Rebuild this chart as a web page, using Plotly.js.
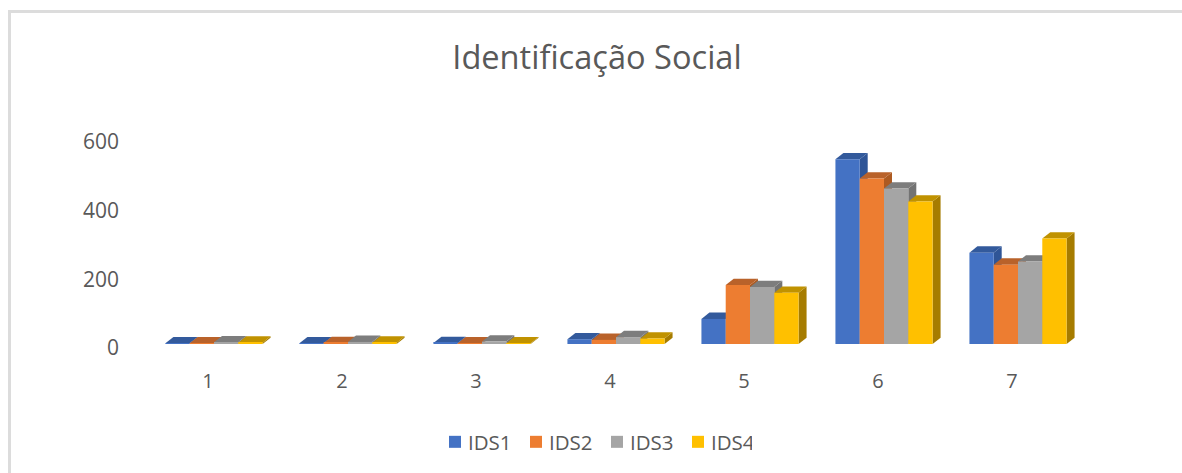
<!DOCTYPE html>
<html>
<head>
<meta charset="utf-8">
<script src="https://cdn.plot.ly/plotly-3.0.1.min.js"></script>
<style>
html,body{margin:0;padding:0;background:#fff;width:1182px;height:473px;overflow:hidden}
#frame{position:absolute;left:8px;top:10px;right:0;bottom:0;border-left:3px solid #dcdcdc;border-top:3px solid #dcdcdc}
#chart{position:absolute;left:0;top:0;width:1182px;height:473px}
.legend .legendpoints path{transform:translate(27px,0) !important}
</style>
</head>
<body>
<div id="frame"></div>
<div id="chart"></div>
<script>
const categories = [1, 2, 3, 4, 5, 6, 7];
const IDS1 = [2, 2, 3, 14, 73, 538, 266];
const IDS2 = [2, 3, 2, 12, 172, 482, 231];
const IDS3 = [5, 6, 7, 20, 166, 453, 240];
const IDS4 = [4, 4, 2, 16, 149, 415, 307];
const seriesNames = ['IDS1', 'IDS2', 'IDS3', 'IDS4'];
const seriesValues = [IDS1, IDS2, IDS3, IDS4];
const frontColors = ['#4472C4', '#ED7D31', '#A5A5A5', '#FFC000'];
const topColors = ['#335A9C', '#B9622A', '#7D7D7D', '#C09200'];
const sideColors = ['#2F5597', '#AD5A21', '#737373', '#A67C00'];
const yTicks = [0, 200, 400, 600];

const bargap = 0.275, barW = (1 - bargap) / 4;
const depthX = 8 / 134, depthY = 18.4;
const textColor = '#595959', fontFam = '"Open Sans","Noto Sans",sans-serif';

const traces = seriesNames.map((name, i) => ({
  type: 'bar', name, x: categories, y: seriesValues[i],
  marker: {color: frontColors[i], line: {width: 0}}, hoverinfo: 'x+y+name'
}));

const shapes = [];
seriesValues.forEach((vals, i) => {
  vals.forEach((v, c) => {
    const x0 = categories[c] - 2 * barW + i * barW, x1 = x0 + barW;
    shapes.push({type: 'path', layer: 'below', xref: 'x', yref: 'y', line: {width: 0},
      fillcolor: sideColors[i],
      path: `M${x1},0L${x1 + depthX},${depthY}L${x1 + depthX},${v + depthY}L${x1},${v}Z`});
    shapes.push({type: 'path', layer: 'below', xref: 'x', yref: 'y', line: {width: 0},
      fillcolor: topColors[i],
      path: `M${x0},${v}L${x0 + depthX},${v + depthY}L${x1 + depthX},${v + depthY}L${x1},${v}Z`});
  });
});

const layout = {
  width: 1182, height: 473,
  margin: {l: 147, r: 97, t: 138, b: 129, pad: 0},
  paper_bgcolor: 'rgba(0,0,0,0)', plot_bgcolor: 'rgba(0,0,0,0)',
  font: {family: fontFam, color: textColor},
  title: {text: 'Identificação Social', x: 597 / 1182, xref: 'container', xanchor: 'center',
          y: 1 - 58 / 473, yref: 'container', yanchor: 'middle',
          font: {size: 32.6, color: textColor, family: fontFam}},
  barmode: 'group', bargap: bargap, bargroupgap: 0,
  xaxis: {range: [0.5, 7.5], tickvals: categories, ticktext: categories.map(String),
          showgrid: false, zeroline: false, showline: false, ticks: '',
          tickfont: {size: 20, color: textColor}, ticklabelshift: -6, ticklabelstandoff: 23},
  yaxis: {range: [0, 600], tickvals: yTicks, showgrid: false, zeroline: false, showline: false, ticks: '',
          tickfont: {size: 21, color: textColor}, ticklabelshift: 4, ticklabelstandoff: 27},
  showlegend: true,
  legend: {orientation: 'h', xref: 'container', x: 428 / 1182, xanchor: 'left',
           yref: 'container', y: 1 - 442 / 473, yanchor: 'middle',
           font: {size: 20.5, color: textColor}, traceorder: 'normal',
           entrywidth: 36, entrywidthmode: 'pixels', itemclick: false, itemdoubleclick: false,
           bgcolor: 'rgba(0,0,0,0)'},
  shapes: shapes
};
Plotly.newPlot('chart', traces, layout, {displayModeBar: false, responsive: false});
</script>
</body>
</html>
